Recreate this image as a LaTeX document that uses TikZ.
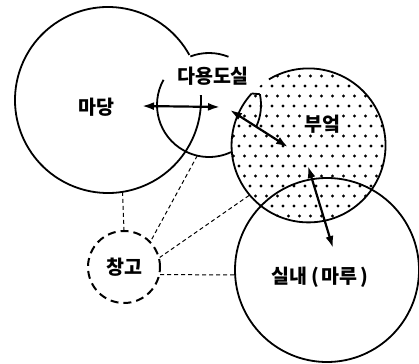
\documentclass[tikz,border=0pt]{standalone}
\usepackage{fontspec}
\setmainfont{Noto Sans CJK KR}
\usetikzlibrary{arrows.meta}
\tikzset{
  ring/.style={circle, inner sep=0pt, outer sep=0pt, draw=none},
  edge/.style={line width=1.8pt},
  lbl/.style={font=\bfseries\fontsize{19.5}{21}\selectfont, inner sep=1pt},
  link/.style={line width=1pt, dash pattern=on 4pt off 3pt},
  dbl/.style={line width=2.2pt, {Latex[length=12pt,width=8pt]}-{Latex[length=12pt,width=8pt]}},
}
\begin{document}
\begin{tikzpicture}[x=1pt,y=-1pt]
\useasboundingbox (0,0) rectangle (419,363);
% invisible circle nodes (for anchors)
\node[ring, minimum size=186] (madang) at (108,100) {};
\node[ring, minimum size=104] (dayong) at (209,105) {};
\node[ring, minimum size=154] (bueok) at (308,146) {};
\node[ring, minimum size=184] (silnae) at (327,270) {};
% dots of the kitchen
\begin{scope}
  \clip (308,146) circle (77);
  \foreach \j in {0,...,16}{
    \pgfmathsetmacro\off{mod(\j,2)*5.5}
    \foreach \i in {0,...,15}{
      \fill ({228+\i*11+\off},{66+\j*10}) circle (1.55);
    }
  }
\end{scope}
% outlines
\draw[edge] (madang.29) arc[start angle=-29, end angle=-363, radius=93];
\draw[edge] (dayong.68) arc[start angle=-68, end angle=-111, radius=52];
\draw[edge] (dayong.151) arc[start angle=-151, end angle=-295, radius=52];
\draw[edge] (dayong.-24) arc[start angle=24, end angle=-12, radius=52];
\draw[edge] (bueok.137.6) arc[start angle=-137.6, end angle=-481, radius=77];
\draw[edge] (bueok.137.6) -- (dayong.12);
\draw[edge] (327,270) circle (92);
% labels
\node[lbl] (tmadang) at (96,107) {마당};
\node[lbl] (tdayong) at (213,76) {다용도실};
\node[lbl, fill=white] (tbueok) at (322,124) {부엌};
\node[lbl] (tsilnae) at (320,277) {실내\kern4pt(\kern3pt마루\kern3pt)};
\node[lbl, circle, draw, line width=2pt, dash pattern=on 8pt off 5pt, minimum size=72, inner sep=0pt] (changgo) at (124,267) {창고};
% dashed links
\draw[link] (madang.-81) -- (changgo.90);
\draw[link] (dayong.-103) -- (changgo.44);
\draw[link] (bueok.220) -- (changgo.15);
\draw[link] (changgo.-12) -- (silnae.183);
% arrows
\coordinate (a1) at (142,106); \coordinate (a2) at (220,107);
\coordinate (b1) at (230,110); \coordinate (b2) at (288,147);
\coordinate (c1) at (308,166); \coordinate (c2) at (333,248);
\draw[dbl] (a1) -- (a2);
\draw[dbl] (b1) -- (b2);
\draw[dbl] (c1) -- (c2);
\end{tikzpicture}
\end{document}
